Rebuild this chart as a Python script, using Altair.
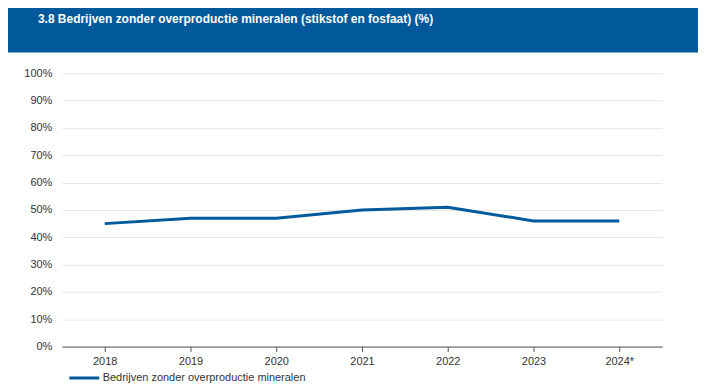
import altair as alt
import pandas as pd

years = ["2018", "2019", "2020", "2021", "2022", "2023", "2024*"]
values = [0.45, 0.47, 0.47, 0.50, 0.51, 0.46, 0.46]
series_name = "Bedrijven zonder overproductie mineralen"
title_text = "3.8 Bedrijven zonder overproductie mineralen (stikstof en fosfaat) (%)"

df = pd.DataFrame({"jaar": years, "waarde": values, "reeks": [series_name] * len(years)})

FONT = "Liberation Sans"
BLUE = "#005a9b"

line = alt.Chart(df).mark_line(strokeWidth=3, color=BLUE).encode(
    x=alt.X("jaar:N", sort=years, title=None,
            scale=alt.Scale(type="point", padding=0.5),
            axis=alt.Axis(labelAngle=0, domainColor="#555555", tickColor="#555555",
                          tickSize=5, labelPadding=4, grid=False,
                          labelFont=FONT, labelFontSize=11, labelColor="#333333")),
    y=alt.Y("waarde:Q", title=None,
            scale=alt.Scale(domain=[0, 1]),
            axis=alt.Axis(format="0%", values=[i / 10 for i in range(11)],
                          domain=False, ticks=False, labelPadding=10,
                          gridColor="#e6e6e6", labelFont=FONT, labelFontSize=11,
                          labelColor="#333333")),
    stroke=alt.Stroke("reeks:N", scale=alt.Scale(range=[BLUE]),
                      legend=alt.Legend(title=None, orient="none", legendX=6, legendY=289,
                                        symbolType="stroke", symbolSize=900,
                                        symbolStrokeWidth=3, labelFont=FONT,
                                        labelFontSize=11, labelColor="#333333",
                                        labelOffset=2, labelLimit=500, padding=0)),
)

bar_df = pd.DataFrame({"t": [title_text]})
bar = alt.Chart(bar_df).mark_rect(color="#01589a").encode(
    x=alt.value(-60), x2=alt.value(638), y=alt.value(-70), y2=alt.value(-21)
)
title = alt.Chart(bar_df).mark_text(
    color="white", font=FONT, fontSize=12, fontWeight="bold", align="left", baseline="middle"
).encode(x=alt.value(-24), y=alt.value(-55), text="t:N")

chart = alt.layer(bar, title, line).properties(
    width=602, height=274,
    autosize=alt.AutoSizeParams(type="none"),
    padding={"left": 54, "top": 65, "right": 40, "bottom": 44},
).configure_view(stroke=None)

chart.save("out.html", embed_options={"renderer": "svg", "actions": False})
